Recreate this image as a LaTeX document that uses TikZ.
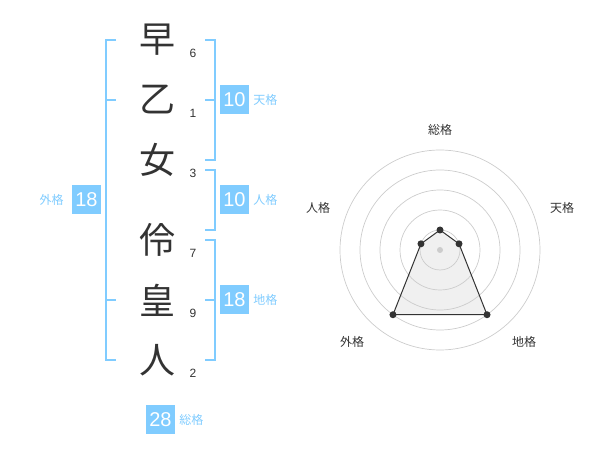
\documentclass[tikz,border=0pt]{standalone}
\usepackage{fontspec}
\setmainfont{Liberation Sans}
\newfontfamily\jp{Noto Sans CJK JP}
\definecolor{kaku}{HTML}{80CCFF}
\definecolor{moji}{HTML}{333333}
\definecolor{wa}{HTML}{CCCCCC}

\begin{document}
\begin{tikzpicture}[x=1pt,y=-1pt,
    kanji/.style={text=moji, inner sep=0, font=\jp\fontsize{36}{36}\selectfont},
    kakusu/.style={text=moji, inner sep=0, font=\fontsize{12}{12}\selectfont},
    bracket/.style={kaku, line width=2},
    numbox/.style={fill=kaku, text=white, minimum size=29, inner sep=0, font=\fontsize{20}{20}\selectfont},
    kakuname/.style={text=kaku, inner sep=0, font=\jp\fontsize{12}{12}\selectfont},
    axisname/.style={text=moji, inner sep=0, font=\jp\fontsize{12}{12}\selectfont}]
    \useasboundingbox (0,0) rectangle (600,470);

    % 文字
    \node[kanji] (c1) at (157,40) {早};
    \node[kanji] (c2) at (157,100) {乙};
    \node[kanji] (c3) at (157,160) {女};
    \node[kanji] (c4) at (157,240) {伶};
    \node[kanji] (c5) at (157,300) {皇};
    \node[kanji] (c6) at (157,360) {人};

    % 画数
    \node[kakusu] (n1) at (193,53) {6};
    \node[kakusu] (n2) at (193,113) {1};
    \node[kakusu] (n3) at (193,173) {3};
    \node[kakusu] (n4) at (193,253) {7};
    \node[kakusu] (n5) at (193,313) {9};
    \node[kakusu] (n6) at (193,373) {2};

    % 括弧
    \draw[bracket] (116,40) -- (106,40) -- (106,360) -- (116,360);
    \draw[bracket] (106,100) -- (116,100);
    \draw[bracket] (106,300) -- (116,300);
    \draw[bracket] (205,40) -- (215,40) -- (215,160) -- (205,160);
    \draw[bracket] (205,100) -- (215,100);
    \draw[bracket] (205,170) -- (215,170) -- (215,230) -- (205,230);
    \draw[bracket] (205,240) -- (215,240) -- (215,360) -- (205,360);
    \draw[bracket] (205,300) -- (215,300);

    % 格
    \node[numbox] (gai) at (86.5,200) {18};
    \node[kakuname, anchor=east] (gaiL) at ([xshift=-8]gai.west) {外格};
    \node[numbox] (ten) at (234.5,100) {10};
    \node[kakuname, anchor=west] (tenL) at ([xshift=4]ten.east) {天格};
    \node[numbox] (jin) at (234.5,200) {10};
    \node[kakuname, anchor=west] (jinL) at ([xshift=4]jin.east) {人格};
    \node[numbox] (chi) at (234.5,300) {18};
    \node[kakuname, anchor=west] (chiL) at ([xshift=4]chi.east) {地格};
    \node[numbox] (sou) at (160.5,419.5) {28};
    \node[kakuname, anchor=west] (souL) at ([xshift=4]sou.east) {総格};

    % レーダー
    \begin{scope}[shift={(440,250)}, yscale=-1]
        \fill[black!6] (90:20) -- (18:20) -- (-54:80) -- (-126:80) -- (162:20) -- cycle;
        \foreach \r in {20,40,...,100}
            \draw[wa, line width=0.7] (0,0) circle (\r);
        \fill[wa] (0,0) circle (3);
        \draw[moji, line width=1] (90:20) coordinate (p1) -- (18:20) coordinate (p2)
            -- (-54:80) coordinate (p3) -- (-126:80) coordinate (p4)
            -- (162:20) coordinate (p5) -- cycle;
        \foreach \p in {p1,p2,p3,p4,p5}
            \fill[moji] (\p) circle (3.5);
    \end{scope}
    \node[axisname] (aSou) at (440,130) {総格};
    \node[axisname] (aTen) at (562,208) {天格};
    \node[axisname] (aJin) at (318,208) {人格};
    \node[axisname] (aGai) at (352,342) {外格};
    \node[axisname] (aChi) at (524,342) {地格};
\end{tikzpicture}
\end{document}
